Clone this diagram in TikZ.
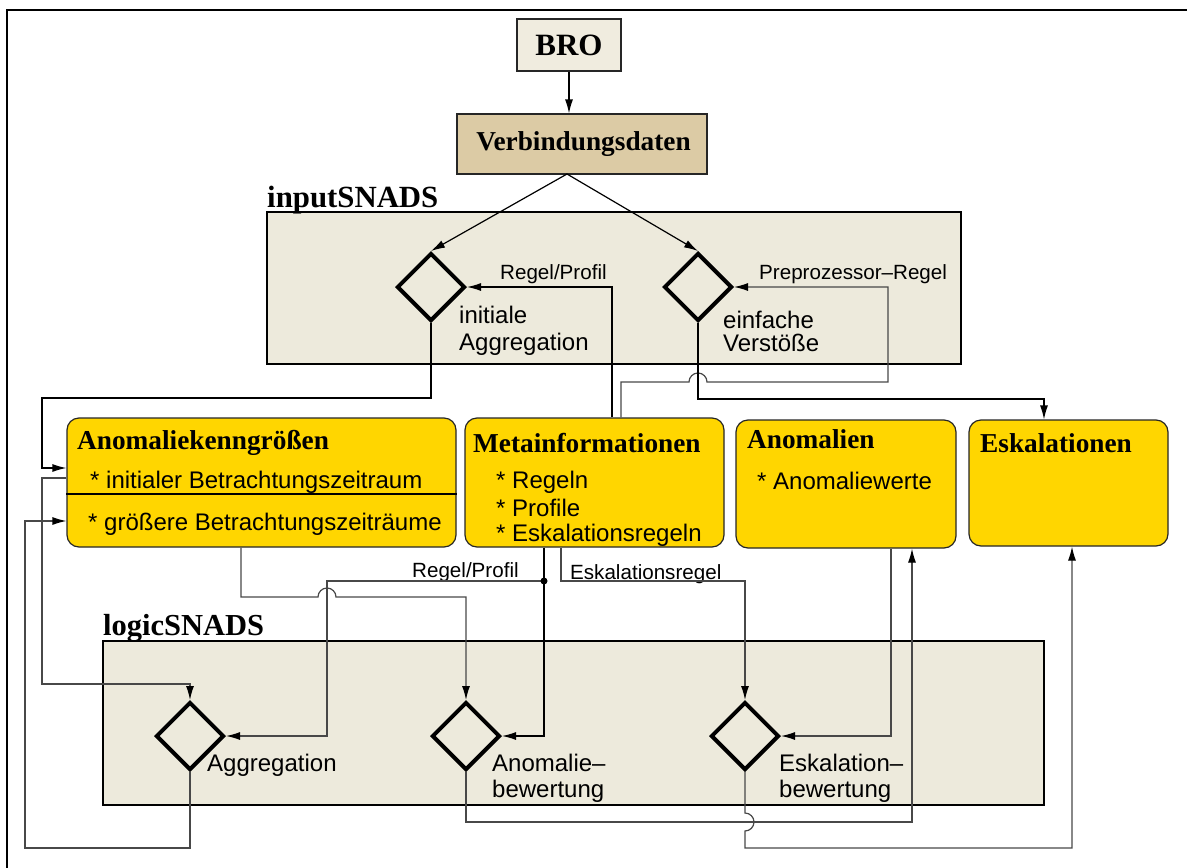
\documentclass[tikz,border=0pt]{standalone}
\usepackage{fontspec}
\setmainfont{Liberation Serif}
\newfontfamily\lsans{Liberation Sans}
\usetikzlibrary{arrows.meta,shapes.geometric}
\definecolor{gold}{RGB}{255,214,0}
\definecolor{areafill}{RGB}{237,234,220}
\definecolor{brofill}{RGB}{240,236,223}
\definecolor{tanfill}{RGB}{220,203,165}
\definecolor{wire}{RGB}{72,72,72}
\tikzset{
  arr/.style={-{Latex[length=14pt,width=8pt,color=black]}},
  wireA/.style={line width=1.2pt, draw=black},
  wireG/.style={line width=1.2pt, draw=wire},
  box/.style={draw=black!85, line width=1.2pt, rounded corners=12pt, fill=gold, inner sep=0},
  snadsarea/.style={draw=black, line width=1.2pt, fill=areafill, inner sep=0},
  dia/.style={diamond, draw=black, line width=4pt, minimum width=68pt, minimum height=68pt, inner sep=0, aspect=1},
  ttl/.style={anchor=base west, inner sep=0, font=\fontsize{27.3}{30}\selectfont\bfseries},
  lbl/.style={anchor=base west, inner sep=0, font=\lsans\fontsize{24}{28}\selectfont},
  clbl/.style={anchor=base west, inner sep=0, font=\lsans\fontsize{20.6}{24}\selectfont},
}
\begin{document}
\begin{tikzpicture}[x=1pt,y=-1pt]
\useasboundingbox (0,0) rectangle (1187,868);
% frame
\draw[line width=1.3pt] (1187,10) -- (7,10) -- (7,868);
% areas
\node[snadsarea, minimum width=694pt, minimum height=152pt] (inarea) at (614,288) {};
\node[snadsarea, minimum width=941pt, minimum height=164pt] (logarea) at (573.5,723) {};
\node[anchor=base west, inner sep=0, font=\fontsize{30.8}{33}\selectfont\bfseries] (intitle) at (267,207) {inputSNADS};
\node[anchor=base west, inner sep=0, font=\fontsize{30.5}{33}\selectfont\bfseries] (logtitle) at (103,635) {logicSNADS};
% top boxes
\node[draw=black!85, line width=1.2pt, fill=brofill, minimum width=104pt, minimum height=52pt, inner sep=0, font=\fontsize{31}{33}\selectfont\bfseries] (bro) at (569,45) {BRO};
\node[draw=black!85, line width=1.2pt, fill=tanfill, minimum width=250pt, minimum height=60pt, inner sep=0, font=\fontsize{27.3}{30}\selectfont\bfseries] (verb) at (582,144) {\hspace*{3pt}Verbindungsdaten};
% yellow boxes
\node[box, minimum width=389pt, minimum height=129pt] (ak) at (261.5,482.5) {};
\node[box, minimum width=259pt, minimum height=129pt] (meta) at (594.5,482.5) {};
\node[box, minimum width=220pt, minimum height=128pt] (ano) at (846,484) {};
\node[box, minimum width=199pt, minimum height=126pt] (esk) at (1068.5,483) {};
\draw[line width=1.2pt] (ak.west |- 0,494) -- (ak.east |- 0,494);
\node[ttl] (akt) at (77,449) {Anomaliekenngrößen};
\node[lbl] (ak1) at (90,488) {* initialer Betrachtungszeitraum};
\node[lbl] (ak2) at (88,530) {* größere Betrachtungszeiträume};
\node[ttl] (metat) at (473,452) {Metainformationen};
\node[lbl] (m1) at (496,488) {* Regeln};
\node[lbl] (m2) at (496,516) {* Profile};
\node[lbl] (m3) at (496,541) {* Eskalationsregeln};
\node[ttl] (anot) at (747,448) {Anomalien};
\node[lbl] (ano1) at (757,489) {* Anomaliewerte};
\node[ttl] (eskt) at (980,452) {Eskalationen};
% diamonds
\node[dia] (ldia) at (431,287) {};
\node[dia] (rdia) at (698,287) {};
\node[dia] (agg) at (190,736) {};
\node[dia] (anb) at (466,736) {};
\node[dia] (esb) at (745,736) {};
\node[lbl] (ldl1) at (459,323) {initiale};
\node[lbl] (ldl2) at (459,350) {Aggregation};
\node[lbl] (rdl1) at (723,328) {einfache};
\node[lbl] (rdl2) at (723,351) {Verstöße};
\node[lbl] (aggl) at (207,771) {Aggregation};
\node[lbl] (anbl1) at (492,771) {Anomalie–};
\node[lbl] (anbl2) at (492,797) {bewertung};
\node[lbl] (esbl1) at (779,771) {Eskalation–};
\node[lbl] (esbl2) at (779,797) {bewertung};
% connector labels
\node[clbl] (rp1) at (500,279) {Regel/Profil};
\node[clbl] (pre) at (759,279) {Preprozessor–Regel};
\node[clbl] (rp2) at (412,577) {Regel/Profil};
\node[clbl] (er) at (570,579) {Eskalationsregel};
% connectors
\coordinate (vout) at (567,174);
\draw[wireA, arr] (bro.south) -- (bro.south |- verb.north);
\draw[wireA, arr] (vout) -- (ldia.north);
\draw[wireA, arr] (vout) -- (rdia.north);
\draw[wireA, arr] (meta.north -| 612,0) |- (ldia.east);
\draw[wireG, arr] (meta.north -| 621,0) -- (621,382) -- (689,382) arc[start angle=180,end angle=360,radius=9] -- (888,382) |- (rdia.east);
\draw[wireA, arr] (ldia.south) |- (42,398) |- (ak.west |- 0,468);
\draw[wireA, arr] (rdia.south) |- (1044,399) -- (esk.north -| 1044,0);
\draw[wireG, arr] (ak.west |- 0,478) -| (42,684) -| (agg.north);
\draw[wireG, arr] (agg.south) |- (25,848) |- (ak.west |- 0,521);
\draw[wireG, arr] (ak.south -| 241,0) -- (241,597) -- (318,597) arc[start angle=180,end angle=360,radius=9] -- (466,597) -- (anb.north);
\draw[wireA, arr] (meta.south -| 544,0) |- (anb.east);
\coordinate (dot) at (544,581);
\draw[wireG, arr] (dot) -- (327,581) |- (agg.east);
\fill (dot) circle[radius=3.5pt];
\draw[wireG, arr] (meta.south -| 561,0) |- (745,581) -- (esb.north);
\draw[wireG, arr] (ano.south -| 891,0) |- (esb.east);
\draw[wireG, arr] (anb.south) |- (912,822) -- (ano.south -| 912,0);
\draw[wireG, arr] (esb.south) -- (745,813) arc[start angle=-90,end angle=90,radius=9] -- (745,848) -| (esk.south -| 1072,0);
\end{tikzpicture}
\end{document}
